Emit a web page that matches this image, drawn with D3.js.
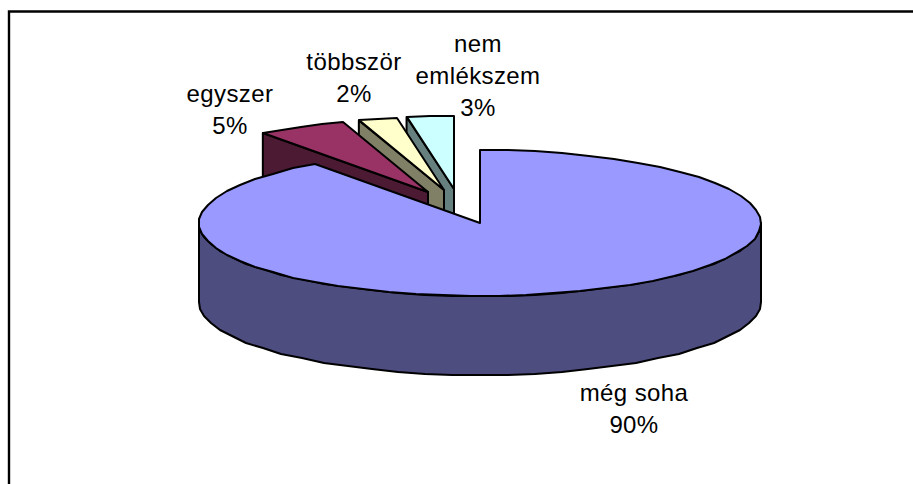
<!DOCTYPE html>
<html>
<head>
<meta charset="utf-8">
<script src="https://cdn.jsdelivr.net/npm/d3@7"></script>
<style>
  html, body { margin: 0; background: #fff; }
  text { font-family: "Liberation Sans", Arial, sans-serif; font-size: 24px; letter-spacing: 0.4px; fill: #000; text-anchor: middle; }
</style>
</head>
<body>
<svg id="chart" width="913" height="484" style="display:block"></svg>
<script>
// clockwise from 12 o'clock
const categories = [['még soha'], ['egyszer'], ['többször'], ['nem', 'emlékszem']];
const values = [90, 5.1, 2.2, 2.7];
const percentLabels = ['90%', '5%', '2%', '3%'];
const topColors = ['#9999ff', '#993366', '#ffffcc', '#ccffff'];
const sideColors = ['#4d4d80', '#4d1a33', '#808066', '#668080'];

const W = 913, H = 484;
const cx = 480, cy = 223, rx = 281, ry = 73, depth = 79;
// exploded slices get pulled up-left, per slice because of the perspective
const shiftX = [0, -52, -36, -26];
const shiftY = [0, -31, -33, -34];
const labelX = [634, 230, 354, 478];
const labelBottom = [433, 134, 102, 116];
const lineGap = 32;

const svg = d3.select('#chart');

// frame, only left and top show up in the picture
svg.append('path').attr('d', d3.line()([[9, H], [9, 11.5], [W, 11.5]]))
  .attr('fill', 'none').attr('stroke', '#000').attr('stroke-width', 2.4);

const arcs = d3.pie().sort(null).value(d => d)(values);

const px = a => rx * Math.sin(a);
const py = a => -ry * Math.cos(a);
const line = d3.line();

// coarse rounded polyline, the reference rim is visibly stepped
function rimPoints(a0, a1, ox, oy, dy) {
  const n = Math.max(2, Math.ceil((a1 - a0) / 0.1));
  return d3.range(n + 1).map(i => {
    const a = a0 + (a1 - a0) * i / n;
    return [Math.round(ox + px(a)), Math.round(oy + py(a) + dy)];
  });
}

function drawSlice(i) {
  const { startAngle: a0, endAngle: a1 } = arcs[i];
  const ox = cx + shiftX[i], oy = cy + shiftY[i];
  const g = svg.append('g').attr('stroke', '#000').attr('stroke-width', 2).attr('stroke-linejoin', 'round');

  // outer wall, only the part that faces us
  const w0 = Math.max(a0, Math.PI / 2), w1 = Math.min(a1, Math.PI * 1.5);
  if (w1 > w0) {
    const top = rimPoints(w0, w1, ox, oy, 0);
    const bot = rimPoints(w0, w1, ox, oy, depth).reverse();
    g.append('path').attr('d', line(top.concat(bot)) + 'Z').attr('fill', sideColors[i]);
  }
  // cut face at the start angle of exploded slices
  if (i !== 0) {
    const e = [ox + px(a0), oy + py(a0)];
    g.append('path')
      .attr('d', line([e, [ox, oy], [ox, oy + depth], [e[0], e[1] + depth]]) + 'Z')
      .attr('fill', sideColors[i]);
  }
  g.append('path')
    .attr('d', line([[ox, oy]].concat(rimPoints(a0, a1, ox, oy, 0))) + 'Z')
    .attr('fill', topColors[i]);
}

[3, 2, 1, 0].forEach(drawSlice);

categories.forEach((c, i) => {
  const lines = c.concat(percentLabels[i]);
  lines.forEach((t, k) => {
    svg.append('text')
      .attr('x', labelX[i])
      .attr('y', labelBottom[i] - (lines.length - 1 - k) * lineGap)
      .text(t);
  });
});
</script>
</body>
</html>
